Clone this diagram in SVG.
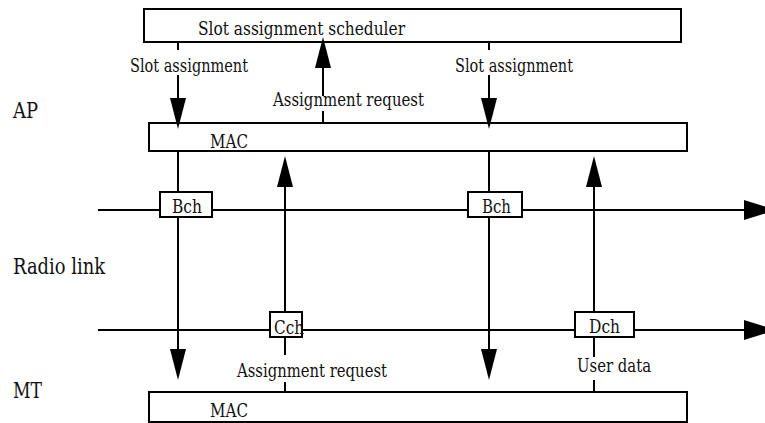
<svg xmlns="http://www.w3.org/2000/svg" width="765" height="423" viewBox="0 0 765 423">
  <style>
    .box { fill: #fff; stroke: #000; stroke-width: 2; }
    .ln { fill: none; stroke: #000; stroke-width: 2; }
    .lbl { font-family: 'DejaVu Serif', 'Liberation Serif', serif; font-size: 18.5px; fill: #111; }
    .side { font-family: 'DejaVu Serif', 'Liberation Serif', serif; font-size: 22px; fill: #111; }
  </style>
  <defs>
    <marker id="headV" markerUnits="userSpaceOnUse" markerWidth="32" markerHeight="18" refX="0" refY="8" orient="auto" overflow="visible">
      <path d="M0,0 L31,8 L0,16 z" fill="#000"/>
    </marker>
    <marker id="headH" markerUnits="userSpaceOnUse" markerWidth="34" markerHeight="22" refX="0" refY="10" orient="auto" overflow="visible">
      <path d="M0,0 L32,10 L0,20 z" fill="#000"/>
    </marker>
  </defs>

  <!-- layer labels -->
  <g id="layer-labels">
    <text class="side" x="13" y="118" textLength="25" lengthAdjust="spacingAndGlyphs">AP</text>
    <text class="side" x="13" y="274" textLength="92" lengthAdjust="spacingAndGlyphs">Radio link</text>
    <text class="side" x="13" y="398" textLength="29" lengthAdjust="spacingAndGlyphs">MT</text>
  </g>

  <!-- scheduler and MAC entities -->
  <g id="scheduler">
    <rect class="box" x="144" y="9" width="537" height="33"/>
    <text class="lbl" x="198" y="35" textLength="207" lengthAdjust="spacingAndGlyphs">Slot assignment scheduler</text>
  </g>
  <g id="ap-mac">
    <rect class="box" x="149" y="123" width="538" height="28"/>
    <text class="lbl" x="210" y="148" textLength="38" lengthAdjust="spacingAndGlyphs">MAC</text>
  </g>
  <g id="mt-mac">
    <rect class="box" x="149" y="392" width="538" height="30"/>
    <text class="lbl" x="210" y="417" textLength="38" lengthAdjust="spacingAndGlyphs">MAC</text>
  </g>

  <!-- signal flows -->
  <g id="connectors">
    <!-- radio channels -->
    <line class="ln" x1="98" y1="210" x2="744" y2="210" marker-end="url(#headH)"/>
    <line class="ln" x1="98" y1="330" x2="744" y2="330" marker-end="url(#headH)"/>

    <!-- slot assignment, left -->
    <line class="ln" x1="178" y1="42" x2="178" y2="50"/>
    <line class="ln" x1="178" y1="75" x2="178" y2="98" marker-end="url(#headV)"/>
    <text class="lbl" x="130" y="72" textLength="118" lengthAdjust="spacingAndGlyphs">Slot assignment</text>

    <!-- assignment request, AP to scheduler -->
    <line class="ln" x1="323" y1="123" x2="323" y2="111"/>
    <line class="ln" x1="323" y1="96" x2="323" y2="68" marker-end="url(#headV)"/>
    <text class="lbl" x="273" y="106" textLength="151" lengthAdjust="spacingAndGlyphs">Assignment request</text>

    <!-- slot assignment, right -->
    <line class="ln" x1="489" y1="42" x2="489" y2="50"/>
    <line class="ln" x1="489" y1="75" x2="489" y2="98" marker-end="url(#headV)"/>
    <text class="lbl" x="455" y="72" textLength="118" lengthAdjust="spacingAndGlyphs">Slot assignment</text>

    <!-- broadcast channels down to MT -->
    <line class="ln" x1="178" y1="151" x2="178" y2="349" marker-end="url(#headV)"/>
    <line class="ln" x1="489" y1="151" x2="489" y2="349" marker-end="url(#headV)"/>

    <!-- assignment request, MT up via Cch -->
    <line class="ln" x1="285" y1="392" x2="285" y2="382"/>
    <line class="ln" x1="285" y1="355" x2="285" y2="187" marker-end="url(#headV)"/>
    <text class="lbl" x="237" y="377" textLength="150" lengthAdjust="spacingAndGlyphs">Assignment request</text>

    <!-- user data, MT up via Dch -->
    <line class="ln" x1="594" y1="392" x2="594" y2="380"/>
    <line class="ln" x1="594" y1="357" x2="594" y2="187" marker-end="url(#headV)"/>
    <text class="lbl" x="577" y="372" textLength="74" lengthAdjust="spacingAndGlyphs">User data</text>
  </g>

  <!-- channel boxes -->
  <g id="bch-1">
    <rect class="box" x="160" y="192" width="52" height="25"/>
    <text class="lbl" x="172" y="213" textLength="30" lengthAdjust="spacingAndGlyphs">Bch</text>
  </g>
  <g id="bch-2">
    <rect class="box" x="468" y="192" width="54" height="25"/>
    <text class="lbl" x="482" y="213" textLength="29" lengthAdjust="spacingAndGlyphs">Bch</text>
  </g>
  <g id="cch">
    <rect class="box" x="270" y="312" width="32" height="25"/>
    <text class="lbl" x="274" y="334" textLength="30" lengthAdjust="spacingAndGlyphs">Cch</text>
  </g>
  <g id="dch">
    <rect class="box" x="575" y="312" width="59" height="25"/>
    <text class="lbl" x="589" y="333" textLength="31" lengthAdjust="spacingAndGlyphs">Dch</text>
  </g>
</svg>
